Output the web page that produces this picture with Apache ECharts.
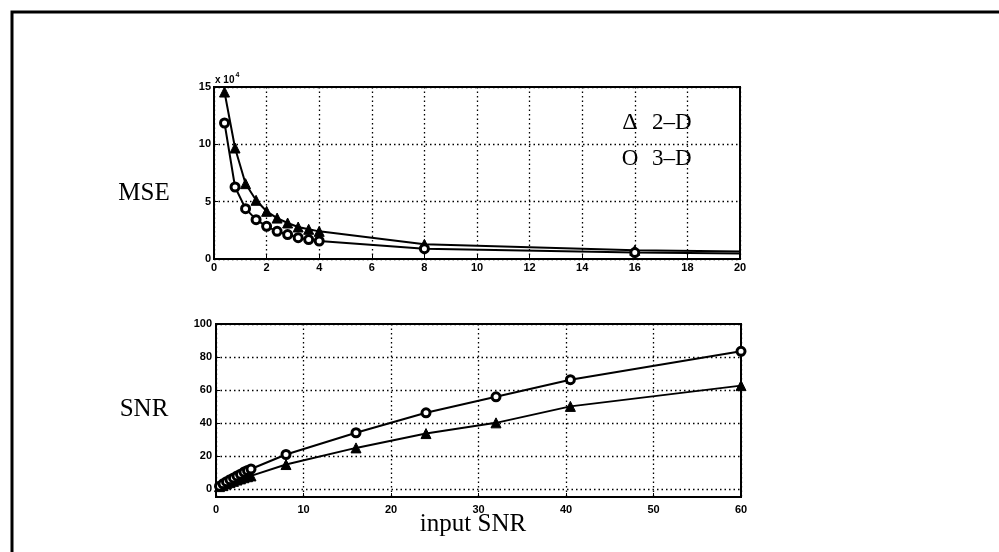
<!DOCTYPE html>
<html>
<head>
<meta charset="utf-8">
<script src="https://cdn.jsdelivr.net/npm/echarts@6/dist/echarts.min.js"></script>
<style>
  html, body { margin: 0; padding: 0; background: #fff; }
  #chart { width: 999px; height: 552px; }
</style>
</head>
<body>
<div id="chart"></div>
<script>
// input SNR values (both panels share them)
const snrIn = [0.4, 0.8, 1.2, 1.6, 2.0, 2.4, 2.8, 3.2, 3.6, 4.0, 8, 16, 24, 32, 40.5, 60];
// MSE, in units of 10^4
const mse2D = [14.56, 9.68, 6.57, 5.12, 4.16, 3.57, 3.14, 2.79, 2.59, 2.41, 1.28, 0.76, 0.56, 0.47, 0.38, 0.30];
const mse3D = [11.86, 6.28, 4.39, 3.43, 2.85, 2.41, 2.13, 1.86, 1.69, 1.57, 0.90, 0.56, 0.41, 0.34, 0.28, 0.23];
// output SNR
const snr2D = [1.3, 1.9, 2.9, 3.7, 4.5, 5.3, 6.0, 6.7, 7.3, 7.8, 14.7, 24.8, 33.5, 40.0, 50.0, 62.6];
const snr3D = [1.6, 3.0, 4.3, 5.5, 6.6, 7.8, 8.8, 10.1, 11.1, 12.0, 20.8, 34.0, 46.1, 55.8, 66.2, 83.4];
// tick labels
const snrTicks = [0, 20, 40, 60, 80, 100];

const pairs = (xs, ys) => xs.map((x, i) => [x, ys[i]]);

const chart = echarts.init(document.getElementById("chart"));
const tickFont = { color: "#000", fontFamily: "Liberation Sans", fontWeight: "bold", fontSize: 11 };
const serif = "Liberation Serif";
const dotted = { show: true, lineStyle: { color: "#000", type: [1.5, 3], width: 1.3 } };

function lineSeries(name, xi, yi, data, symbol) {
  return {
    name: name,
    type: "line",
    xAxisIndex: xi,
    yAxisIndex: yi,
    data: data,
    clip: true,
    symbol: symbol,
    symbolSize: symbol === "triangle" ? 10 : 8,
    lineStyle: { color: "#000", width: 2 },
    itemStyle: symbol === "triangle"
      ? { color: "#000", borderColor: "#000" }
      : { color: "#fff", borderColor: "#000", borderWidth: 3 },
    animation: false
  };
}

const option = {
  backgroundColor: "#fff",
  animation: false,
  grid: [
    { left: 214, right: 259, top: 87, bottom: 293, show: true, borderColor: "#000", borderWidth: 2, backgroundColor: "transparent" },
    { left: 216, right: 258, top: 324, bottom: 55, show: true, borderColor: "#000", borderWidth: 2, backgroundColor: "transparent" }
  ],
  xAxis: [
    {
      gridIndex: 0, type: "value", min: 0, max: 20, interval: 2,
      axisLine: { show: true, onZero: false, lineStyle: { color: "#000", width: 2 } },
      axisTick: { show: true, inside: true, length: 4, lineStyle: { color: "#000" } },
      axisLabel: Object.assign({ margin: 3 }, tickFont),
      splitLine: dotted
    },
    {
      gridIndex: 1, type: "value", min: 0, max: 60, interval: 10,
      axisLine: { show: true, onZero: false, lineStyle: { color: "#000", width: 2 } },
      axisTick: { show: true, inside: true, length: 4, lineStyle: { color: "#000" } },
      axisLabel: Object.assign({ margin: 7 }, tickFont),
      splitLine: dotted
    }
  ],
  yAxis: [
    {
      gridIndex: 0, type: "value", min: 0, max: 15, interval: 5,
      axisLine: { show: true, onZero: false, lineStyle: { color: "#000", width: 2 } },
      axisTick: { show: true, inside: true, length: 4, lineStyle: { color: "#000" } },
      axisLabel: Object.assign({ margin: 3 }, tickFont),
      splitLine: dotted
    },
    {
      gridIndex: 1, type: "value", min: -5, max: 100,
      axisLine: { show: true, onZero: false, lineStyle: { color: "#000", width: 2 } },
      axisTick: { show: true, inside: true, length: 4, lineStyle: { color: "#000" }, customValues: snrTicks },
      axisLabel: Object.assign({ margin: 4, customValues: snrTicks }, tickFont),
      splitLine: dotted
    }
  ],
  series: [
    lineSeries("2-D", 0, 0, pairs(snrIn, mse2D), "triangle"),
    lineSeries("3-D", 0, 0, pairs(snrIn, mse3D), "circle"),
    lineSeries("2-D", 1, 1, pairs(snrIn, snr2D), "triangle"),
    lineSeries("3-D", 1, 1, pairs(snrIn, snr3D), "circle")
  ],
  graphic: [
    // outer frame (top and left edges of the figure box)
    { type: "polyline", shape: { points: [[999, 12], [12, 12], [12, 552]] }, style: { stroke: "#000", lineWidth: 3, fill: null } },
    { type: "text", x: 144, y: 193, style: { text: "MSE", font: "25px '" + serif + "'", fill: "#000", align: "center", verticalAlign: "middle" } },
    { type: "text", x: 144, y: 409, style: { text: "SNR", font: "25px '" + serif + "'", fill: "#000", align: "center", verticalAlign: "middle" } },
    { type: "text", x: 473, y: 524, style: { text: "input SNR", font: "25px '" + serif + "'", fill: "#000", align: "center", verticalAlign: "middle" } },
    { type: "text", x: 630, y: 123, style: { text: "Δ", font: "24px '" + serif + "'", fill: "#000", align: "center", verticalAlign: "middle" } },
    { type: "text", x: 652, y: 123, style: { text: "2–D", font: "23px '" + serif + "'", fill: "#000", align: "left", verticalAlign: "middle" } },
    { type: "text", x: 630, y: 159, style: { text: "O", font: "23px '" + serif + "'", fill: "#000", align: "center", verticalAlign: "middle" } },
    { type: "text", x: 652, y: 159, style: { text: "3–D", font: "23px '" + serif + "'", fill: "#000", align: "left", verticalAlign: "middle" } },
    {
      type: "text", x: 215, y: 72,
      style: {
        text: "{b|x 10}{s|4}",
        rich: {
          b: { font: "bold 10px 'Liberation Sans'", fill: "#000", verticalAlign: "bottom" },
          s: { font: "bold 7px 'Liberation Sans'", fill: "#000", padding: [0, 0, 6, 1] }
        }
      }
    }
  ]
};
chart.setOption(option);
window.onresize = () => { chart.resize(); };
</script>
</body>
</html>
